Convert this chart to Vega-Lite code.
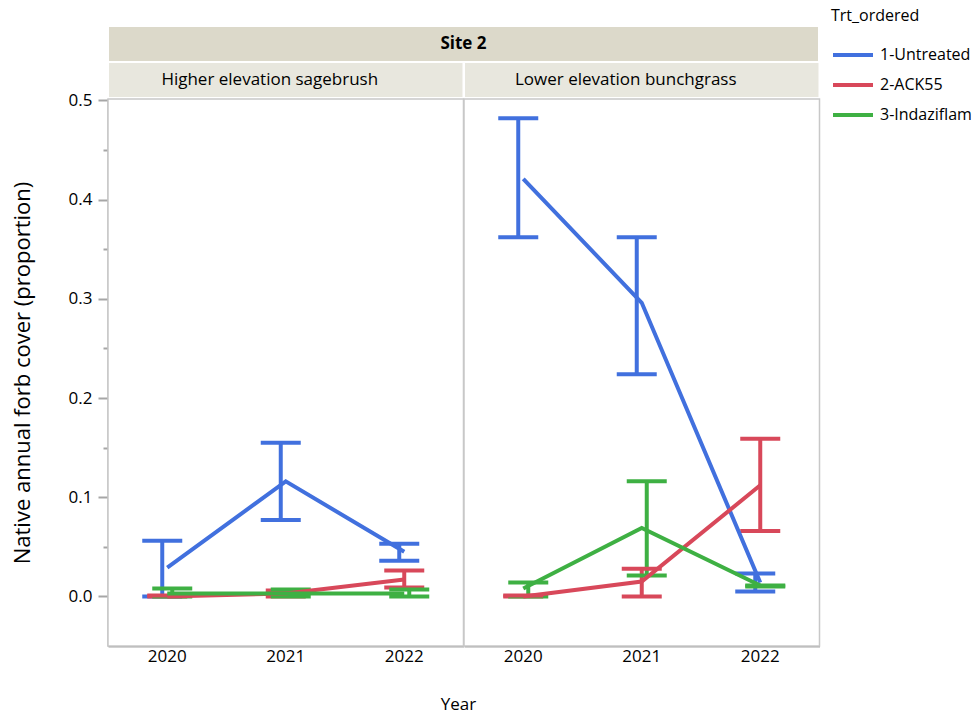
{
  "$schema": "https://vega.github.io/schema/vega-lite/v6.json",
  "padding": {"left": 11, "top": 8, "right": 5, "bottom": 0},
  "config": {
    "font": "Open Sans",
    "view": {"stroke": null},
    "concat": {"spacing": 0},
    "axisY": {"domainColor": "#a6a6a6", "domainWidth": 2, "tickColor": "#a6a6a6", "tickWidth": 2, "labelFontSize": 17, "labelColor": "black", "labelPadding": 6, "titleFontSize": 22, "titleFontWeight": "normal", "titleColor": "black", "titlePadding": 34, "grid": false},
    "axisX": {"domainColor": "#a6a6a6", "domainWidth": 2, "ticks": false, "labelFontSize": 17, "labelPadding": 2, "labelColor": "black", "labelAngle": 0, "grid": false},
    "legend": {"titleFontSize": 16, "titleFontWeight": "normal", "titleColor": "black", "labelFontSize": 16, "labelColor": "black", "symbolType": "stroke", "symbolStrokeWidth": 4, "symbolSize": 1600, "clipHeight": 20, "rowPadding": 10, "titlePadding": 21, "labelOffset": 5}
  },
  "datasets": {
    "means": [
      {"Habitat": "Higher elevation sagebrush", "Year": "2020", "Trt": "1-Untreated", "mean": 0.029, "lo": 0.0, "hi": 0.056},
      {"Habitat": "Higher elevation sagebrush", "Year": "2021", "Trt": "1-Untreated", "mean": 0.116, "lo": 0.077, "hi": 0.155},
      {"Habitat": "Higher elevation sagebrush", "Year": "2022", "Trt": "1-Untreated", "mean": 0.045, "lo": 0.036, "hi": 0.053},
      {"Habitat": "Higher elevation sagebrush", "Year": "2020", "Trt": "2-ACK55", "mean": 0.0, "lo": 0.0, "hi": 0.001},
      {"Habitat": "Higher elevation sagebrush", "Year": "2021", "Trt": "2-ACK55", "mean": 0.003, "lo": 0.0, "hi": 0.006},
      {"Habitat": "Higher elevation sagebrush", "Year": "2022", "Trt": "2-ACK55", "mean": 0.017, "lo": 0.009, "hi": 0.026},
      {"Habitat": "Higher elevation sagebrush", "Year": "2020", "Trt": "3-Indaziflam", "mean": 0.003, "lo": 0.0, "hi": 0.008},
      {"Habitat": "Higher elevation sagebrush", "Year": "2021", "Trt": "3-Indaziflam", "mean": 0.003, "lo": 0.0, "hi": 0.007},
      {"Habitat": "Higher elevation sagebrush", "Year": "2022", "Trt": "3-Indaziflam", "mean": 0.003, "lo": 0.0, "hi": 0.007},
      {"Habitat": "Lower elevation bunchgrass", "Year": "2020", "Trt": "1-Untreated", "mean": 0.421, "lo": 0.362, "hi": 0.482},
      {"Habitat": "Lower elevation bunchgrass", "Year": "2021", "Trt": "1-Untreated", "mean": 0.296, "lo": 0.224, "hi": 0.362},
      {"Habitat": "Lower elevation bunchgrass", "Year": "2022", "Trt": "1-Untreated", "mean": 0.014, "lo": 0.005, "hi": 0.023},
      {"Habitat": "Lower elevation bunchgrass", "Year": "2020", "Trt": "2-ACK55", "mean": 0.0, "lo": 0.0, "hi": 0.001},
      {"Habitat": "Lower elevation bunchgrass", "Year": "2021", "Trt": "2-ACK55", "mean": 0.015, "lo": 0.0, "hi": 0.028},
      {"Habitat": "Lower elevation bunchgrass", "Year": "2022", "Trt": "2-ACK55", "mean": 0.112, "lo": 0.066, "hi": 0.159},
      {"Habitat": "Lower elevation bunchgrass", "Year": "2020", "Trt": "3-Indaziflam", "mean": 0.008, "lo": 0.0, "hi": 0.014},
      {"Habitat": "Lower elevation bunchgrass", "Year": "2021", "Trt": "3-Indaziflam", "mean": 0.069, "lo": 0.021, "hi": 0.116},
      {"Habitat": "Lower elevation bunchgrass", "Year": "2022", "Trt": "3-Indaziflam", "mean": 0.011, "lo": 0.010, "hi": 0.011}
    ],
    "habitats": [
      {"Habitat": "Higher elevation sagebrush"},
      {"Habitat": "Lower elevation bunchgrass"}
    ],
    "site": [{"Site": "Site 2"}],
    "xtitle": [{"Title": "Year"}]
  },
  "spacing": -10,
  "vconcat": [
    {
      "spacing": 0,
      "bounds": "flush",
      "vconcat": [
        {
          "data": {"name": "site"},
          "width": 711,
          "height": 36,
          "view": {"fill": "#dcd9ca", "stroke": "white", "strokeWidth": 2},
          "mark": {"type": "text", "fontWeight": "bold", "fontSize": 17, "color": "black"},
          "encoding": {"text": {"field": "Site"}}
        },
        {
          "data": {"name": "habitats"},
          "facet": {"column": {"field": "Habitat", "type": "nominal", "title": null, "header": {"labels": false, "labelPadding": 0, "titlePadding": 0}}},
          "spacing": 0,
          "bounds": "flush",
          "spec": {
            "width": 355.5,
            "height": 36,
            "view": {"fill": "#e8e7de", "stroke": "white", "strokeWidth": 2},
            "mark": {"type": "text", "fontSize": 17, "color": "black", "dx": -16},
            "encoding": {"text": {"field": "Habitat"}}
          }
        }
      ]
    },
    {
      "spacing": 0,
      "vconcat": [
        {
          "data": {"name": "means"},
          "facet": {"column": {"field": "Habitat", "type": "nominal", "title": null, "header": {"labels": false, "labelPadding": 0, "titlePadding": 0}}},
          "spacing": 0,
          "bounds": "flush",
          "spec": {
            "width": 355.5,
            "height": 547,
            "view": {"stroke": "#c8c8c8", "strokeWidth": 1.5, "fill": "white"},
            "encoding": {
              "x": {"field": "Year", "type": "ordinal", "title": null, "scale": {"type": "band", "paddingInner": 0, "paddingOuter": 0}},
              "color": {"field": "Trt", "type": "nominal", "title": "Trt_ordered",
                "scale": {"domain": ["1-Untreated", "2-ACK55", "3-Indaziflam"], "range": ["#4170de", "#d8485a", "#3eb043"]},
                "legend": {"orient": "none", "legendX": 723, "legendY": -18}}
            },
            "layer": [
              {
                "mark": {"type": "rule", "strokeWidth": 4, "opacity": 1},
                "encoding": {
                  "xOffset": {"field": "Trt", "type": "nominal", "scale": {"type": "band", "range": [51.75, 66.75], "paddingInner": 0, "paddingOuter": 0}},
                  "y": {"field": "lo", "type": "quantitative", "title": "Native annual forb cover (proportion)",
                    "scale": {"domain": [-0.05, 0.5015], "nice": false, "zero": false},
                    "axis": {"values": [0, 0.05, 0.1, 0.15, 0.2, 0.25, 0.3, 0.35, 0.4, 0.45, 0.5],
                      "labelExpr": "abs(datum.value*10 - round(datum.value*10)) < 0.001 ? format(datum.value, '.1f') : ''",
                      "tickSize": {"condition": {"test": "abs(datum.value*10 - round(datum.value*10)) < 0.001", "value": 10}, "value": 5}}},
                  "y2": {"field": "hi"}
                }
              },
              {
                "mark": {"type": "tick", "size": 40, "thickness": 4, "opacity": 1},
                "encoding": {
                  "xOffset": {"field": "Trt", "type": "nominal"},
                  "y": {"field": "lo", "type": "quantitative", "title": "Native annual forb cover (proportion)"}
                }
              },
              {
                "mark": {"type": "tick", "size": 40, "thickness": 4, "opacity": 1},
                "encoding": {
                  "xOffset": {"field": "Trt", "type": "nominal"},
                  "y": {"field": "hi", "type": "quantitative", "title": "Native annual forb cover (proportion)"}
                }
              },
              {
                "mark": {"type": "line", "strokeWidth": 4},
                "encoding": {
                  "y": {"field": "mean", "type": "quantitative", "title": "Native annual forb cover (proportion)"}
                }
              }
            ]
          }
        },
        {
          "data": {"name": "xtitle"},
          "width": 711,
          "height": 82,
          "mark": {"type": "text", "fontSize": 17, "color": "black", "dx": -5},
          "encoding": {"text": {"field": "Title"}}
        }
      ]
    }
  ]
}
